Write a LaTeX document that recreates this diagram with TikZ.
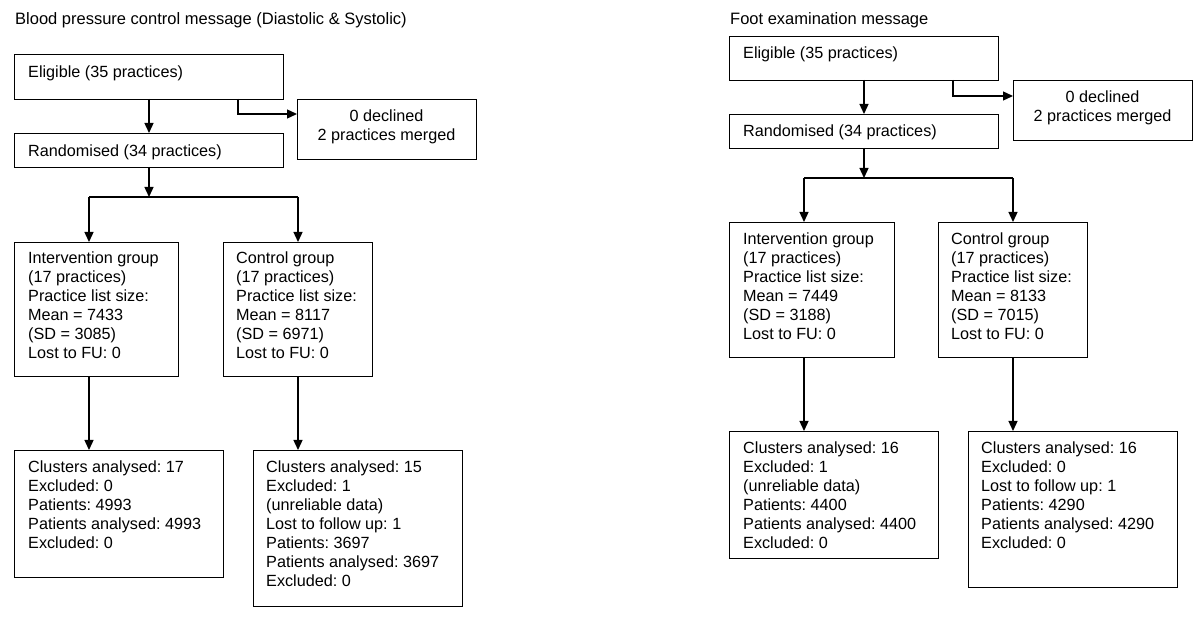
\documentclass[tikz,border=0pt]{standalone}
\usepackage{fontspec}
\setmainfont{Liberation Sans}
\usetikzlibrary{arrows.meta}
\frenchspacing
\begin{document}
\begin{tikzpicture}[x=1pt,y=-1pt,
  box/.style={draw,line width=1.3pt,rectangle,inner sep=0pt,anchor=north west},
  txt/.style={inner sep=0pt,anchor=base west,align=left,font=\fontsize{16.2}{19}\selectfont\frenchspacing},
  ttl/.style={inner sep=0pt,anchor=base west,font=\fontsize{16.5}{19}\selectfont\frenchspacing},
  ctxt/.style={inner sep=0pt,anchor=base,align=center,font=\fontsize{16.2}{19}\selectfont\frenchspacing},
  conn/.style={line width=1.3pt},
  arr/.style={line width=1.3pt,-{Triangle[length=10pt,width=9pt]}}]
\useasboundingbox (0,0) rectangle (1200,617);
% ---------------- left diagram ----------------
\node[ttl] (title1) at (15,25) {Blood pressure control message (Diastolic \& Systolic)};
\node[box,minimum width=269pt,minimum height=45pt] (elig1) at (14,54) {};
\node[txt] (elig1t) at (28,78) {Eligible (35 practices)};
\node[box,minimum width=179pt,minimum height=60pt] (decl1) at (297,99) {};
\node[ctxt] (decl1t) at (386.5,141) {0 declined\\2 practices merged};
\node[box,minimum width=269pt,minimum height=34pt] (rand1) at (14,133) {};
\node[txt] (rand1t) at (28,157) {Randomised (34 practices)};
\node[box,minimum width=164pt,minimum height=134pt] (int1) at (14,242) {};
\node[txt] (int1t) at (28,359) {Intervention group\\(17 practices)\\Practice list size:\\Mean = 7433\\(SD = 3085)\\Lost to FU: 0};
\node[box,minimum width=149pt,minimum height=134pt] (ctl1) at (223,242) {};
\node[txt] (ctl1t) at (236,359) {Control group\\(17 practices)\\Practice list size:\\Mean = 8117\\(SD = 6971)\\Lost to FU: 0};
\node[box,minimum width=209pt,minimum height=127pt] (res1a) at (14,450) {};
\node[txt] (res1at) at (28,548) {Clusters analysed: 17\\Excluded: 0\\Patients: 4993\\Patients analysed: 4993\\Excluded: 0};
\node[box,minimum width=209pt,minimum height=156pt] (res1b) at (253,450) {};
\node[txt] (res1bt) at (266,586) {Clusters analysed: 15\\Excluded: 1\\(unreliable data)\\Lost to follow up: 1\\Patients: 3697\\Patients analysed: 3697\\Excluded: 0};
\coordinate (e1a) at (149,99);
\coordinate (e1b) at (238,99);
\coordinate (e1c) at (238,114);
\coordinate (r1a) at (149,167);
\coordinate (b1M) at (149,197);
\coordinate (b1L) at (89,197);
\coordinate (b1R) at (298,197);
\draw[arr] (e1a) -- (e1a |- rand1.north);
\draw[arr] (e1b) -- (e1c) -- (e1c -| decl1.west);
\draw[arr] (r1a) -- (b1M);
\draw[conn] (b1L) -- (b1R);
\draw[arr] (b1L) -- (b1L |- int1.north);
\draw[arr] (b1R) -- (b1R |- ctl1.north);
\draw[arr] (b1L |- int1.south) -- (b1L |- res1a.north);
\draw[arr] (b1R |- ctl1.south) -- (b1R |- res1b.north);
% ---------------- right diagram ----------------
\node[ttl] (title2) at (730,25) {Foot examination message};
\node[box,minimum width=269pt,minimum height=44pt] (elig2) at (729,36) {};
\node[txt] (elig2t) at (743,59) {Eligible (35 practices)};
\node[box,minimum width=179pt,minimum height=60pt] (decl2) at (1013,80) {};
\node[ctxt] (decl2t) at (1102.5,122) {0 declined\\2 practices merged};
\node[box,minimum width=269pt,minimum height=34pt] (rand2) at (729,114) {};
\node[txt] (rand2t) at (743,137) {Randomised (34 practices)};
\node[box,minimum width=165pt,minimum height=135pt] (int2) at (729,222) {};
\node[txt] (int2t) at (743,340) {Intervention group\\(17 practices)\\Practice list size:\\Mean = 7449\\(SD = 3188)\\Lost to FU: 0};
\node[box,minimum width=149pt,minimum height=135pt] (ctl2) at (938,222) {};
\node[txt] (ctl2t) at (951,340) {Control group\\(17 practices)\\Practice list size:\\Mean = 8133\\(SD = 7015)\\Lost to FU: 0};
\node[box,minimum width=209pt,minimum height=127pt] (res2a) at (729,431) {};
\node[txt] (res2at) at (743,548) {Clusters analysed: 16\\Excluded: 1\\(unreliable data)\\Patients: 4400\\Patients analysed: 4400\\Excluded: 0};
\node[box,minimum width=209pt,minimum height=156pt] (res2b) at (968,431) {};
\node[txt] (res2bt) at (981,548) {Clusters analysed: 16\\Excluded: 0\\Lost to follow up: 1\\Patients: 4290\\Patients analysed: 4290\\Excluded: 0};
\coordinate (e2a) at (864,80);
\coordinate (e2b) at (953,80);
\coordinate (e2c) at (953,96);
\coordinate (r2a) at (864,148);
\coordinate (b2M) at (864,178);
\coordinate (b2L) at (804,178);
\coordinate (b2R) at (1013,178);
\draw[arr] (e2a) -- (e2a |- rand2.north);
\draw[arr] (e2b) -- (e2c) -- (e2c -| decl2.west);
\draw[arr] (r2a) -- (b2M);
\draw[conn] (b2L) -- (b2R);
\draw[arr] (b2L) -- (b2L |- int2.north);
\draw[arr] (b2R) -- (b2R |- ctl2.north);
\draw[arr] (b2L |- int2.south) -- (b2L |- res2a.north);
\draw[arr] (b2R |- ctl2.south) -- (b2R |- res2b.north);
\end{tikzpicture}
\end{document}
